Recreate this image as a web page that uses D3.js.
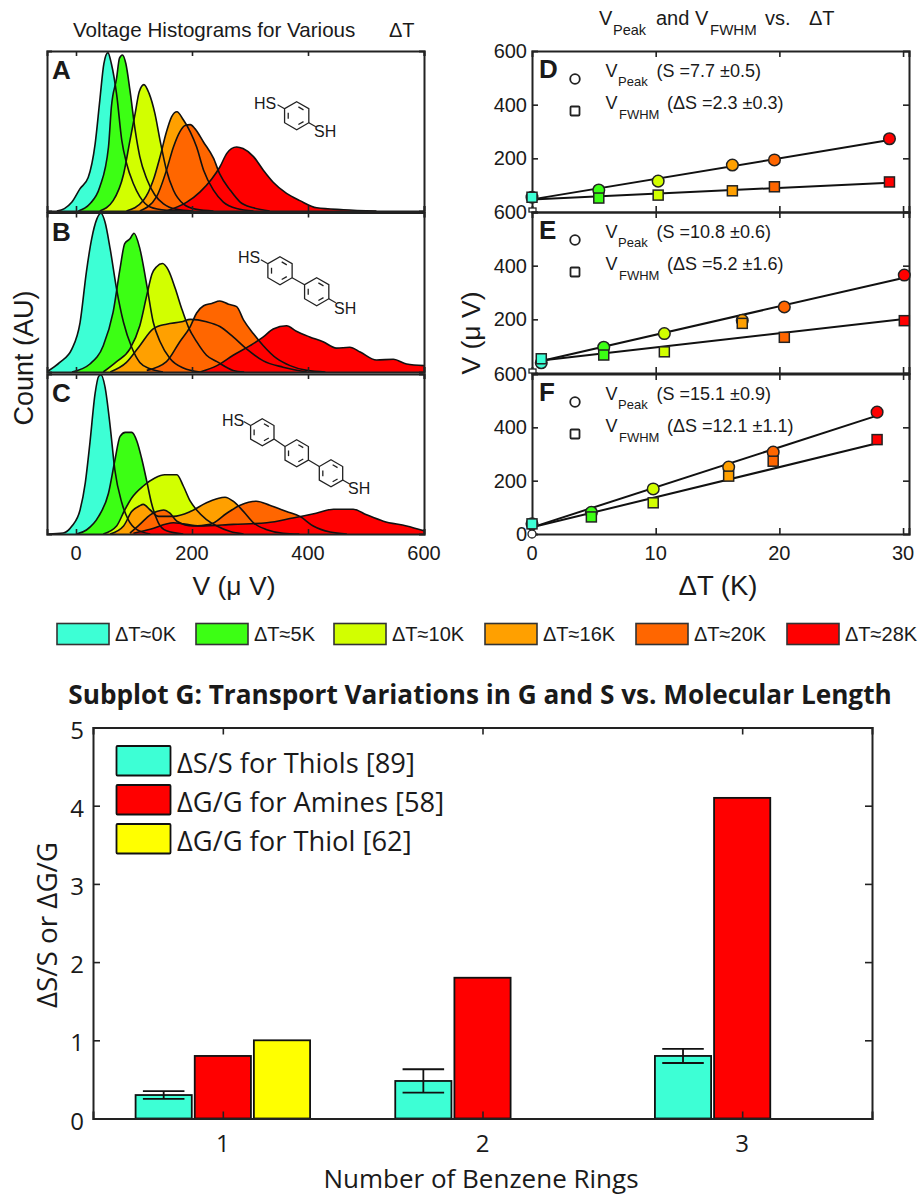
<!DOCTYPE html>
<html>
<head>
<meta charset="utf-8">
<script src="https://cdn.jsdelivr.net/npm/d3@7"></script>
<style>
body { margin: 0; background: #fff; }
text { fill: #1a1a1a; }
.top text { font-family: "Liberation Sans", sans-serif; }
.bottom text { font-family: "Open Sans", sans-serif; }
.domain, .tick line { stroke: #222; }
</style>
</head>
<body>
<script>
var tempLabels = ['ΔT≈0K', 'ΔT≈5K', 'ΔT≈10K', 'ΔT≈16K', 'ΔT≈20K', 'ΔT≈28K'];
var tempColors = ['#3dffd5', '#3cff14', '#d2ff00', '#ffa000', '#ff6600', '#ff0000'];

// histograms: [V in uV, count in AU], one list per temperature
var histA = [
	[[-33,0],[-20,.015],[-7,.056],[7,.14],[21,.21],[33,.42],[41,.69],[48,.92],[55,.99],[61,.92],[70,.73],[79,.44],[87,.30],[99,.17],[110,.09],[128,.025],[156,.004],[180,0]],
	[[4,0],[24,.045],[41,.15],[56,.4],[61,.65],[70,.83],[75,.955],[80,.975],[86,.92],[93,.755],[102,.505],[110,.34],[122,.2],[136,.1],[151,.045],[174,.01],[200,0]],
	[[41,0],[64,.065],[82,.23],[93,.44],[102,.61],[109,.745],[117,.79],[126,.735],[136,.61],[145,.44],[156,.255],[168,.13],[185,.045],[208,.01],[237,0]],
	[[87,0],[116,.065],[133,.19],[145,.34],[156,.495],[165,.59],[174,.62],[185,.57],[197,.495],[208,.40],[220,.255],[237,.13],[254,.056],[277,.015],[306,0]],
	[[110,0],[139,.09],[156,.255],[168,.40],[179,.495],[188,.535],[197,.54],[205,.515],[220,.43],[237,.33],[248,.23],[266,.13],[283,.056],[306,.02],[334,0]],
	[[156,0],[191,.055],[214,.12],[234,.2],[248,.275],[260,.36],[268,.39],[277,.40],[288,.39],[306,.34],[323,.255],[340,.18],[363,.11],[386,.065],[415,.02],[461,.008],[518,0]]
];
var histB = [
	[[-48,.006],[-28,.06],[-7,.145],[7,.31],[18,.63],[27,.835],[36,.96],[43,.995],[50,.94],[59,.77],[70,.52],[82,.31],[96,.155],[110,.06],[128,.02],[150,0]],
	[[-7,0],[24,.05],[47,.165],[64,.375],[76,.65],[84,.805],[93,.835],[100,.87],[110,.775],[122,.545],[133,.315],[145,.19],[162,.085],[185,.025],[214,0]],
	[[47,0],[70,.065],[93,.145],[110,.29],[122,.48],[131,.615],[139,.66],[149,.68],[159,.64],[171,.525],[182,.40],[194,.28],[208,.19],[225,.105],[243,.065],[271,.01],[290,0]],
	[[59,0],[87,.06],[110,.165],[133,.27],[156,.30],[182,.315],[197,.33],[225,.315],[248,.285],[271,.22],[294,.145],[323,.07],[357,.03],[398,0]],
	[[122,.01],[156,.065],[179,.19],[197,.285],[208,.37],[220,.415],[234,.43],[248,.445],[263,.425],[277,.41],[289,.325],[306,.24],[323,.165],[346,.085],[369,.04],[398,.01],[430,0]],
	[[214,0],[243,.04],[271,.105],[300,.165],[323,.22],[340,.27],[363,.29],[380,.255],[403,.22],[426,.19],[449,.15],[472,.155],[490,.125],[518,.075],[547,.08],[570,.05],[600,.04]]
];
var histC = [
	[[-48,0],[-22,.006],[-7,.05],[7,.15],[16,.32],[24,.57],[33,.88],[39,.985],[43,.995],[50,.92],[59,.67],[67,.40],[79,.195],[90,.09],[105,.027],[128,0]],
	[[1,0],[18,.025],[39,.11],[56,.255],[67,.46],[76,.61],[85,.635],[96,.635],[105,.58],[113,.475],[122,.33],[130,.195],[142,.07],[156,.02],[185,0]],
	[[47,0],[70,.05],[84,.15],[96,.225],[116,.30],[136,.35],[153,.37],[174,.37],[185,.30],[197,.205],[208,.15],[225,.09],[243,.05],[266,.015],[289,0]],
	[[59,0],[82,.05],[96,.14],[109,.175],[116,.185],[128,.15],[142,.11],[168,.11],[197,.14],[225,.195],[243,.22],[257,.23],[271,.205],[289,.14],[306,.07],[329,.027],[357,.005],[385,0]],
	[[93,.005],[110,.06],[128,.12],[139,.14],[151,.15],[162,.13],[174,.08],[202,.05],[231,.06],[260,.13],[283,.18],[311,.205],[334,.18],[363,.14],[386,.11],[409,.05],[438,.012],[467,0]],
	[[99,.005],[128,.03],[168,.07],[214,.05],[271,.06],[329,.07],[374,.10],[414,.13],[444,.155],[478,.155],[501,.12],[530,.08],[570,.05],[600,.02]]
];
var histPanels = [histA, histB, histC];
var histLetters = ['A', 'B', 'C'];
var histTicks = [0, 200, 400, 600];

// V peak and V FWHM against delta T
var deltaTD = [0, 5.4, 10.2, 16.2, 19.6, 28.9];
var peakD = [55, 82, 115, 175, 194, 273];
var fwhmD = [55, 52, 63, 79, 94, 112];
var deltaTE = [0.75, 5.8, 10.7, 17, 20.4, 30.1];
var peakE = [38, 96, 147, 196, 246, 365];
var fwhmE = [53, 67, 79, 185, 133, 195];
var deltaTF = [0, 4.8, 9.8, 15.9, 19.5, 27.9];
var peakF = [38, 81, 169, 251, 307, 457];
var fwhmF = [38, 64, 117, 217, 273, 354];
// fit lines, [delta T, V] at both ends
var fitPeak = [[[0,47],[28.9,268]], [[0.75,45],[30.1,355]], [[0,25],[27.9,444]]];
var fitFwhm = [[[0,47],[28.9,109]], [[0.75,47],[30.1,201]], [[0,25],[27.9,340]]];
var fitLetters = ['D', 'E', 'F'];
var peakNotes = ['(S =7.7 ±0.5)', '(S =10.8 ±0.6)', '(S =15.1 ±0.9)'];
var fwhmNotes = ['(ΔS =2.3 ±0.3)', '(ΔS =5.2 ±1.6)', '(ΔS =12.1 ±1.1)'];

// subplot G
var rings = [1, 2, 3];
var barNames = ['ΔS/S for Thiols [89]', 'ΔG/G for Amines [58]', 'ΔG/G for Thiol [62]'];
var barColors = ['#3dffd5', '#ff0000', '#ffff00'];
var thiolS = [0.3, 0.48, 0.8];
var aminesG = [0.8, 1.8, 4.1];
var thiolG = [1, null, null];
var thiolLow = [0.25, 0.33, 0.71];
var thiolHigh = [0.35, 0.63, 0.89];

var svg = d3.select('body').append('svg')
	.attr('width', 920)
	.attr('height', 1195);
var top_ = svg.append('g').attr('class', 'top');
var bottom = svg.append('g').attr('class', 'bottom');

function label(g, x, y, str, size, anchor, weight) {
	return g.append('text')
		.attr('x', x)
		.attr('y', y)
		.attr('font-size', size)
		.attr('text-anchor', anchor || 'start')
		.attr('font-weight', weight || 'normal')
		.text(str);
}

function frame(g, x, y, xTicks, yTicks, tickLen) {
	g.append('g').attr('transform', 'translate(0,' + y.range()[0] + ')')
		.call(d3.axisBottom(x).tickValues(xTicks).tickSize(-tickLen).tickFormat(''));
	g.append('g').attr('transform', 'translate(0,' + y.range()[1] + ')')
		.call(d3.axisTop(x).tickValues(xTicks).tickSize(-tickLen).tickFormat(''));
	g.append('g').attr('transform', 'translate(' + x.range()[0] + ',0)')
		.call(d3.axisLeft(y).tickValues(yTicks).tickSize(-tickLen).tickFormat(''));
	g.append('g').attr('transform', 'translate(' + x.range()[1] + ',0)')
		.call(d3.axisRight(y).tickValues(yTicks).tickSize(-tickLen).tickFormat(''));
	g.selectAll('.domain').attr('stroke-width', 2);
	g.selectAll('.tick line').attr('stroke-width', 1.6);
}

// ---- panels A, B, C
label(top_, 73, 37, 'Voltage Histograms for Various', 20.6);
label(top_, 389, 37, 'ΔT', 20);

var histTops = [51, 212.5, 374];
var histBottoms = [211, 372, 534];
var xHist = d3.scaleLinear().domain([-50, 600]).range([47, 424]);

histPanels.forEach(function(panel, p) {
	var y = d3.scaleLinear().domain([0, 1]).range([histBottoms[p], histTops[p]]);
	var area = d3.area()
		.x(function(d) { return xHist(d[0]); })
		.y0(y(0))
		.y1(function(d) { return y(d[1]); })
		.curve(d3.curveMonotoneX);
	var g = top_.append('g');
	g.selectAll('.fill')
			.data(panel)
		.enter().append('path')
			.attr('class', 'fill')
			.attr('d', area)
			.style('fill', function(d, i) { return tempColors[i]; });
	g.selectAll('.outline')
			.data(panel)
		.enter().append('path')
			.attr('class', 'outline')
			.attr('d', area.lineY1())
			.attr('fill', 'none')
			.attr('stroke', '#111')
			.attr('stroke-width', 1.6);
	frame(g, xHist, y, histTicks, [], 5);
	label(g, 52, histTops[p] + 28, histLetters[p], 26, 'start', 'bold');
});

histTicks.forEach(function(t) {
	label(top_, xHist(t), 560, t, 20, 'middle');
});
label(top_, 234, 595, 'V (μ V)', 26.5, 'middle');
label(top_, 0, 0, 'Count (AU)', 27, 'middle')
	.attr('transform', 'translate(33,358) rotate(-90)');

// molecules
function benzene(g, cx, cy, r) {
	var pts = d3.range(6).map(function(i) {
		var a = Math.PI / 3 * i - Math.PI / 2;
		return [cx + r * Math.cos(a), cy + r * Math.sin(a)];
	});
	g.append('path').attr('d', d3.line()(pts) + 'Z');
	[0, 2, 4].forEach(function(i) {
		var a = pts[i], b = pts[(i + 1) % 6];
		var ax = cx + (a[0] - cx) * 0.7, ay = cy + (a[1] - cy) * 0.7;
		var bx = cx + (b[0] - cx) * 0.7, by = cy + (b[1] - cy) * 0.7;
		var mx = (ax + bx) / 2, my = (ay + by) / 2;
		g.append('line')
			.attr('x1', mx + (ax - mx) * 0.6).attr('y1', my + (ay - my) * 0.6)
			.attr('x2', mx + (bx - mx) * 0.6).attr('y2', my + (by - my) * 0.6);
	});
}
function molecule(centers, r, hs, sh) {
	var g = top_.append('g').attr('fill', 'none').attr('stroke', '#222').attr('stroke-width', 1.3);
	centers.forEach(function(c) { benzene(g, c[0], c[1], r); });
	var first = centers[0], last = centers[centers.length - 1];
	var dx = r * Math.cos(Math.PI / 6), dy = r / 2;
	g.append('line').attr('x1', first[0] - dx).attr('y1', first[1] - dy)
		.attr('x2', first[0] - dx - 7).attr('y2', first[1] - dy - 4);
	g.append('line').attr('x1', last[0] + dx).attr('y1', last[1] + dy)
		.attr('x2', last[0] + dx + 7).attr('y2', last[1] + dy + 4);
	for (var i = 1; i < centers.length; i++) {
		g.append('line').attr('x1', centers[i - 1][0] + dx).attr('y1', centers[i - 1][1] + dy)
			.attr('x2', centers[i][0] - dx).attr('y2', centers[i][1] - dy);
	}
	label(top_, hs[0], hs[1], 'HS', 16);
	label(top_, sh[0], sh[1], 'SH', 16);
}
molecule([[296.7, 115.7]], 14, [254, 109], [314, 137]);
molecule([[280, 270.7], [316.7, 291.7]], 14, [238, 263], [334, 314]);
molecule([[262.3, 432.3], [296.7, 453.3], [331, 473.3]], 13.5, [222, 426], [348, 494]);

// ---- panels D, E, F
var xFit = d3.scaleLinear().domain([0, 30.48]).range([532, 909]);
var fitTops = [51, 212, 374];
var fitBottoms = [212, 373, 534];
var fitX = [deltaTD, deltaTE, deltaTF];
var fitPeakV = [peakD, peakE, peakF];
var fitFwhmV = [fwhmD, fwhmE, fwhmF];
// the 0 of D and E falls on the last digit of the 600 below it
var vTicks = [[200, 400, 600], [200, 400, 600], [0, 200, 400, 600]];

label(top_, 599, 25, 'V', 20);
label(top_, 613, 35, 'Peak', 14.5);
label(top_, 656, 25, 'and V', 20);
label(top_, 710, 35, 'FWHM', 15);
label(top_, 765, 25, 'vs.', 20);
label(top_, 809, 25, 'ΔT', 20);

function circles(g, xs, vs, x, y) {
	g.selectAll(null)
			.data(vs)
		.enter().append('circle')
			.attr('cx', function(d, i) { return x(xs[i]); })
			.attr('cy', function(d) { return y(d); })
			.attr('r', 5.8)
			.attr('stroke', '#222')
			.attr('stroke-width', 1.5)
			.style('fill', function(d, i) { return tempColors[i]; });
}
function squares(g, xs, vs, x, y) {
	g.selectAll(null)
			.data(vs)
		.enter().append('rect')
			.attr('x', function(d, i) { return x(xs[i]) - 5; })
			.attr('y', function(d) { return y(d) - 5; })
			.attr('width', 10)
			.attr('height', 10)
			.attr('stroke', '#222')
			.attr('stroke-width', 1.5)
			.style('fill', function(d, i) { return tempColors[i]; });
}

fitLetters.forEach(function(letter, p) {
	var y = d3.scaleLinear().domain([0, 600]).range([fitBottoms[p], fitTops[p]]);
	var g = top_.append('g');
	var line = d3.line()
		.x(function(d) { return xFit(d[0]); })
		.y(function(d) { return y(d[1]); });
	frame(g, xFit, y, [10, 20, 30], [200, 400], 6);
	[fitPeak[p], fitFwhm[p]].forEach(function(fit) {
		g.append('path').attr('d', line(fit)).attr('fill', 'none')
			.attr('stroke', '#111').attr('stroke-width', 2);
	});
	circles(g, fitX[p], fitPeakV[p], xFit, y);
	squares(g, fitX[p], fitFwhmV[p], xFit, y);
	// the small open marker left at the origin of each panel
	if (p == 2) {
		g.append('circle').attr('cx', xFit(0)).attr('cy', y(0)).attr('r', 4)
			.attr('fill', '#fff').attr('stroke', '#222').attr('stroke-width', 1.3);
	} else {
		g.append('rect').attr('x', xFit(0) - 3).attr('y', y(0) - 4).attr('width', 7).attr('height', 4)
			.attr('fill', '#fff').attr('stroke', '#222').attr('stroke-width', 1.3);
	}
	vTicks[p].forEach(function(t) {
		label(top_, 527, y(t) + 7, t, 20, 'end');
	});
	var t0 = fitTops[p];
	label(g, 539, t0 + 27, letter, 26, 'start', 'bold');
	g.append('circle').attr('cx', 575).attr('cy', t0 + 28).attr('r', 4.8)
		.attr('fill', '#fff').attr('stroke', '#222').attr('stroke-width', 1.8);
	g.append('rect').attr('x', 570.5).attr('y', t0 + 55.5).attr('width', 9).attr('height', 9).attr('rx', 1)
		.attr('fill', '#fff').attr('stroke', '#222').attr('stroke-width', 1.8);
	label(g, 605.5, t0 + 25.5, 'V', 18);
	label(g, 618, t0 + 35, 'Peak', 13);
	label(g, 656.5, t0 + 25.5, peakNotes[p], 18);
	label(g, 605.5, t0 + 58, 'V', 18);
	label(g, 619, t0 + 67.5, 'FWHM', 13);
	label(g, 667, t0 + 58, fwhmNotes[p], 18);
});

[0, 10, 20, 30].forEach(function(t) {
	label(top_, xFit(t), 560, t, 20, 'middle');
});
label(top_, 718, 595, 'ΔT (K)', 27.5, 'middle');
label(top_, 0, 0, 'V (μ V)', 26.5, 'middle')
	.attr('transform', 'translate(480,333) rotate(-90)');

// temperature legend
var swatchX = [57, 196, 334, 485, 636, 787];
tempLabels.forEach(function(name, i) {
	top_.append('rect')
		.attr('x', swatchX[i]).attr('y', 623.5)
		.attr('width', 52).attr('height', 21)
		.attr('stroke', '#333').attr('stroke-width', 1.6)
		.style('fill', tempColors[i]);
	label(top_, swatchX[i] + 58, 641, name, 20);
});

// ---- subplot G
label(bottom, 480, 704, 'Subplot G: Transport Variations in G and S vs. Molecular Length', 26.2, 'middle', 'bold');

var xBar = d3.scaleLinear().domain([0.5, 3.5]).range([93, 872]);
var yBar = d3.scaleLinear().domain([0, 5]).range([1118.5, 727.5]);
var slot = d3.scaleBand().domain([0, 1, 2]).range([-0.336, 0.336]).paddingInner(0.05);

[thiolS, aminesG, thiolG].forEach(function(values, s) {
	bottom.selectAll(null)
			.data(values.filter(function(d) { return d != null; }))
		.enter().append('rect')
			.attr('x', function(d, i) { return xBar(rings[i] + slot(s)); })
			.attr('y', function(d) { return yBar(d); })
			.attr('width', xBar(slot.bandwidth()) - xBar(0))
			.attr('height', function(d) { return yBar(0) - yBar(d); })
			.attr('stroke', '#111')
			.attr('stroke-width', 1.8)
			.style('fill', barColors[s]);
});

rings.forEach(function(r, i) {
	var cx = xBar(r + slot(0) + slot.bandwidth() / 2);
	var capL = xBar(r + slot(0) + slot.bandwidth() / 2 - 0.08);
	var capR = xBar(r + slot(0) + slot.bandwidth() / 2 + 0.08);
	var err = bottom.append('g').attr('stroke', '#111').attr('stroke-width', 1.8);
	err.append('line').attr('x1', cx).attr('x2', cx).attr('y1', yBar(thiolLow[i])).attr('y2', yBar(thiolHigh[i]));
	err.append('line').attr('x1', capL).attr('x2', capR).attr('y1', yBar(thiolLow[i])).attr('y2', yBar(thiolLow[i]));
	err.append('line').attr('x1', capL).attr('x2', capR).attr('y1', yBar(thiolHigh[i])).attr('y2', yBar(thiolHigh[i]));
	label(bottom, xBar(r), 1152, r, 24, 'middle');
});

frame(bottom.append('g'), xBar, yBar, rings, [1, 2, 3, 4], 7);
[0, 1, 2, 3, 4, 5].forEach(function(t) {
	label(bottom, 84, yBar(t) + 11, t, 24, 'end');
});

barNames.forEach(function(name, i) {
	var ly = [746, 785, 824][i];
	bottom.append('rect')
		.attr('x', 116.5).attr('y', ly)
		.attr('width', 54).attr('height', 29.5)
		.attr('rx', 1)
		.attr('stroke', '#111').attr('stroke-width', 1.8)
		.style('fill', barColors[i]);
	label(bottom, 177, ly + 26.5, name, 27.3);
});

label(bottom, 481, 1188, 'Number of Benzene Rings', 26, 'middle');
label(bottom, 0, 0, 'ΔS/S or ΔG/G', 27.8, 'middle')
	.attr('transform', 'translate(57,925) rotate(-90)');
</script>
</body>
</html>
